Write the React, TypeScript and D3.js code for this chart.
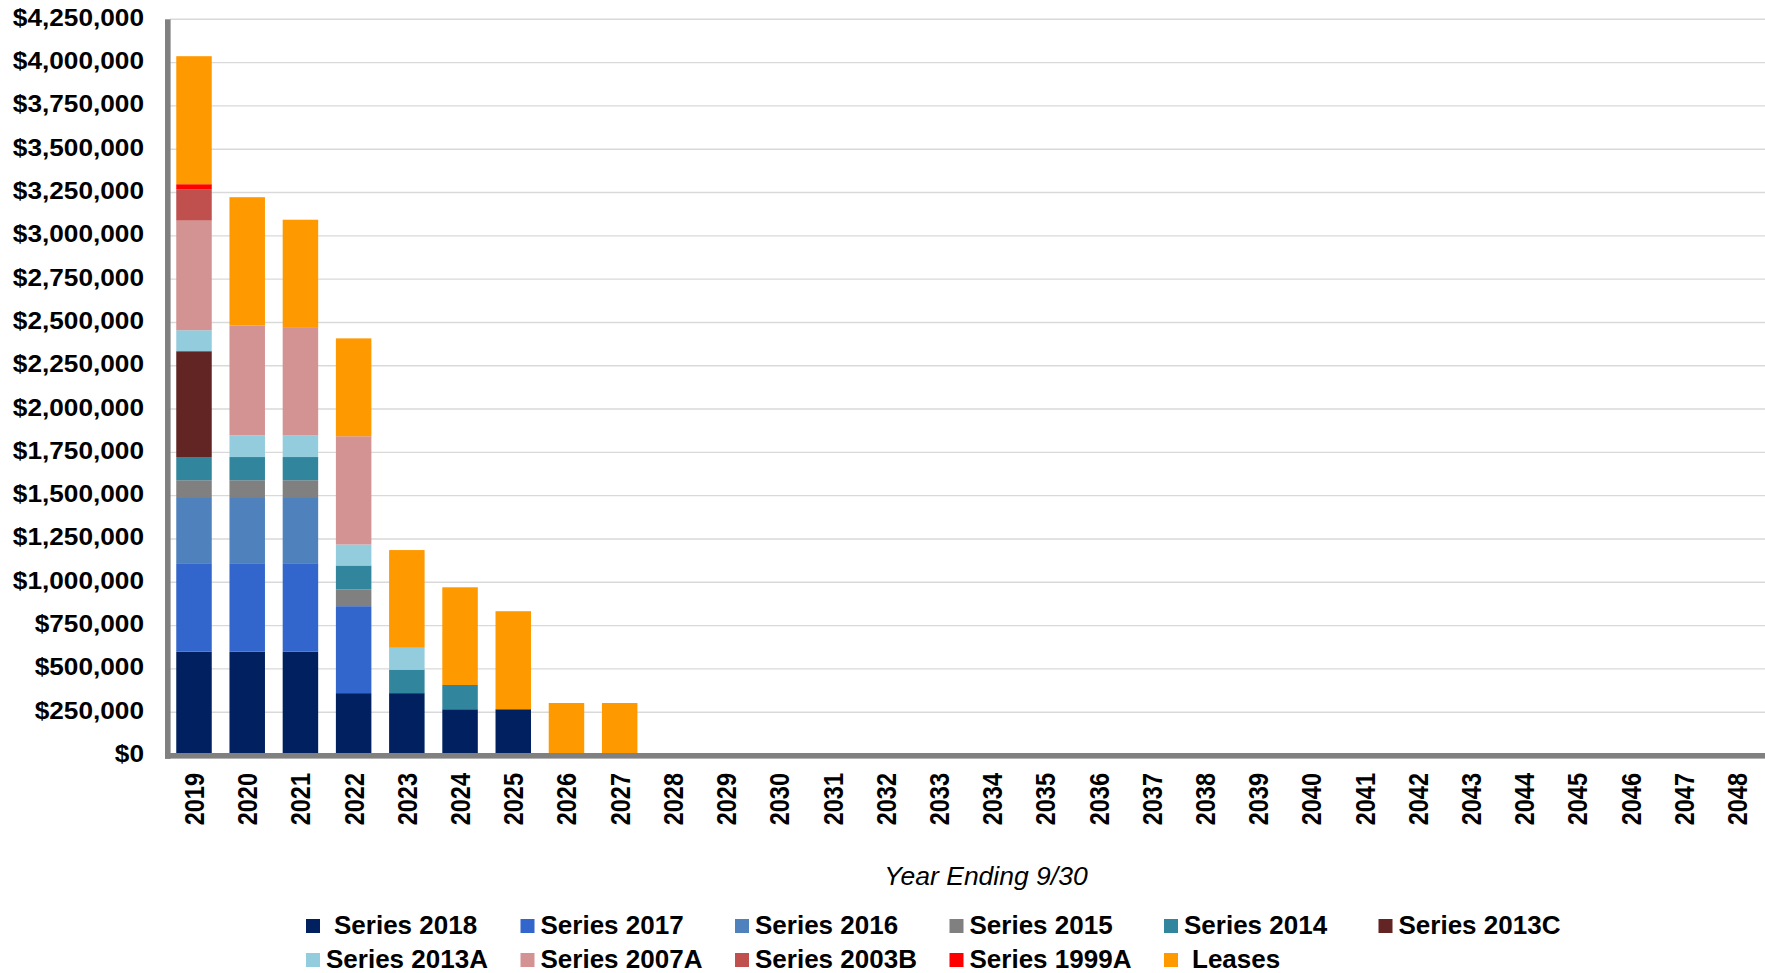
import React from 'react';
import * as d3 from 'd3';

const years = ['2019','2020','2021','2022','2023','2024','2025','2026','2027','2028','2029','2030','2031','2032','2033','2034','2035','2036','2037','2038','2039','2040','2041','2042','2043','2044','2045','2046','2047','2048'];

const pad = (a: number[]) => [...a, ...new Array(years.length - a.length).fill(0)];

const series2018 = pad([600000, 600000, 600000, 360000, 360000, 267000, 267000]);
const series2017 = pad([510000, 510000, 510000, 502000]);
const series2016 = pad([382000, 382000, 382000]);
const series2015 = pad([97000, 97000, 97000, 96000]);
const series2014 = pad([134000, 134000, 134000, 139000, 136000, 140000]);
const series2013C = pad([611000]);
const series2013A = pad([121000, 126000, 124000, 121000, 126000]);
const series2007A = pad([633000, 633000, 626000, 625000]);
const series2003B = pad([179000]);
const series1999A = pad([31000]);
const leases = pad([739000, 741000, 620000, 565000, 564000, 564000, 566000, 303000, 303000]);

const seriesNames = ['Series 2018','Series 2017','Series 2016','Series 2015','Series 2014','Series 2013C','Series 2013A','Series 2007A','Series 2003B','Series 1999A','Leases'];
const seriesValues = [series2018, series2017, series2016, series2015, series2014, series2013C, series2013A, series2007A, series2003B, series1999A, leases];
const seriesColors = ['#002060','#3366CC','#4F81BD','#808080','#31859C','#632523','#93CDDD','#D39393','#C0504D','#FF0000','#FF9900'];

const yMax = 4250000;
const yStep = 250000;

export default function App() {
  const W = 1765, H = 973;
  const x = d3.scaleBand<string>().domain(years).range([167.4, 1763.7]).paddingInner(0.333).paddingOuter(0.1665);
  const y = d3.scaleLinear().domain([0, yMax]).range([755.5, 19.3]);
  const yTicks = d3.range(0, yMax + 1, yStep);
  const fmt = d3.format('$,.0f');

  const table = years.map((yr, i) => {
    const row: any = { year: yr };
    seriesNames.forEach((n, k) => { row[n] = seriesValues[k][i]; });
    return row;
  });
  const stacked = d3.stack<any>().keys(seriesNames)(table);

  const font = '"Liberation Sans", Arial, sans-serif';
  const row1 = seriesNames.slice(0, 6);
  const row2 = seriesNames.slice(6);
  const leadSpace = new Set(['Series 2018', 'Leases']);

  const legendItem = (name: string, col: number, rowTop: number) => {
    const k = seriesNames.indexOf(name);
    const lx = 306 + col * 214.5;
    return (
      <g key={name}>
        <rect x={lx} y={rowTop} width={14} height={14} fill={seriesColors[k]} />
        <text x={lx + 20 + (leadSpace.has(name) ? 8 : 0)} y={rowTop + 14.5} fontFamily={font} fontWeight="bold" fontSize={26} fill="#000">{name}</text>
      </g>
    );
  };

  return (
    <svg width={W} height={H} style={{ position: 'absolute', left: 0, top: 0, background: '#fff' }}>
      <rect x={0} y={0} width={W} height={H} fill="#fff" />
      {yTicks.map(t => (
        <line key={t} x1={170} x2={1765} y1={y(t)} y2={y(t)} stroke="#D9D9D9" strokeWidth={1.4} />
      ))}
      {stacked.map((layer, k) => (
        <g key={seriesNames[k]} fill={seriesColors[k]}>
          {layer.map((d, i) => (d[1] - d[0] > 0 ? (
            <rect key={i} x={x(years[i])} width={x.bandwidth()} y={y(d[1])} height={y(d[0]) - y(d[1])} />
          ) : null))}
        </g>
      ))}
      <rect x={165} y={19.3} width={5.6} height={739.5} fill="#808080" />
      <rect x={165} y={753} width={1600} height={5.6} fill="#808080" />
      {yTicks.map(t => (
        <text key={t} transform={`translate(144,${y(t) + 6.5}) scale(1.14,1)`} textAnchor="end" fontFamily={font} fontWeight="bold" fontSize={23} fill="#000">{fmt(t)}</text>
      ))}
      {years.map(yr => (
        <text key={yr} transform={`translate(${(x(yr) as number) + x.bandwidth() / 2 + 10},773) scale(1.18,1) rotate(-90)`} textAnchor="end" fontFamily={font} fontWeight="bold" fontSize={23.5} fill="#000">{yr}</text>
      ))}
      <text x={986} y={885} textAnchor="middle" fontFamily={font} fontStyle="italic" fontSize={26.5} fill="#000">Year Ending 9/30</text>
      {row1.map((n, c) => legendItem(n, c, 919))}
      {row2.map((n, c) => legendItem(n, c, 953))}
    </svg>
  );
}
